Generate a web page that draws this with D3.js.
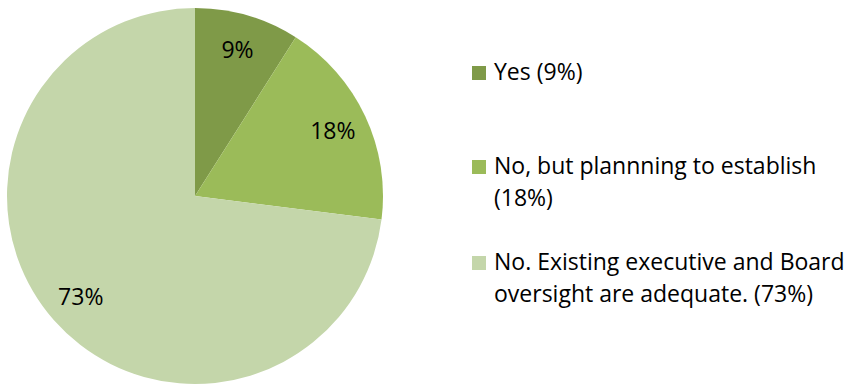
<!DOCTYPE html>
<html>
<head>
<meta charset="utf-8">
<script src="https://cdn.jsdelivr.net/npm/d3@7"></script>
<style>
  html, body { margin: 0; padding: 0; background: #fff; }
  svg text { font-family: "Open Sans", Lato, sans-serif; fill: #000; }
</style>
</head>
<body>
<svg id="chart" width="849" height="385"></svg>
<script>
// Survey responses: share of respondents per answer
const categories = ["Yes", "No, but plannning to establish", "No. Existing executive and Board oversight are adequate."];
const values = [9, 18, 73];
const colors = ["#7F9A48", "#9BBB59", "#C4D6AA"];
// Legend text, wrapped as it is displayed
const legendLines = [
  ["Yes (9%)"],
  ["No, but plannning to establish", "(18%)"],
  ["No. Existing executive and Board", "oversight are adequate. (73%)"]
];

const svg = d3.select("#chart");
const cx = 195, cy = 196, R = 188;

const pie = d3.pie().sort(null).value(d => d)(values);
const arc = d3.arc().innerRadius(0).outerRadius(R);
const labelArc = d3.arc().innerRadius(R * 0.81).outerRadius(R * 0.81);

const g = svg.append("g").attr("transform", `translate(${cx},${cy})`);

g.selectAll("path.slice")
  .data(pie)
  .join("path")
  .attr("class", "slice")
  .attr("d", arc)
  .attr("fill", (d, i) => colors[i]);

g.selectAll("text.pct")
  .data(pie)
  .join("text")
  .attr("class", "pct")
  .attr("transform", d => `translate(${labelArc.centroid(d)})`)
  .attr("text-anchor", "middle")
  .attr("dy", "0.36em")
  .style("font-size", "23px")
  .text(d => d.data + "%");

// Legend
const legendX = 472;
const legendTops = [66, 160, 256];
const lineGap = 32;

const items = svg.append("g").selectAll("g.item")
  .data(categories)
  .join("g")
  .attr("class", "item")
  .attr("transform", (d, i) => `translate(${legendX},${legendTops[i]})`);

items.append("rect")
  .attr("width", 14)
  .attr("height", 14)
  .attr("fill", (d, i) => colors[i]);

items.each(function(d, i) {
  const t = d3.select(this).append("text")
    .attr("x", 22)
    .attr("y", 14)
    .style("font-size", "23px");
  legendLines[i].forEach((line, j) => {
    t.append("tspan").attr("x", 22).attr("y", 14 + j * lineGap).text(line);
  });
});
</script>
</body>
</html>
